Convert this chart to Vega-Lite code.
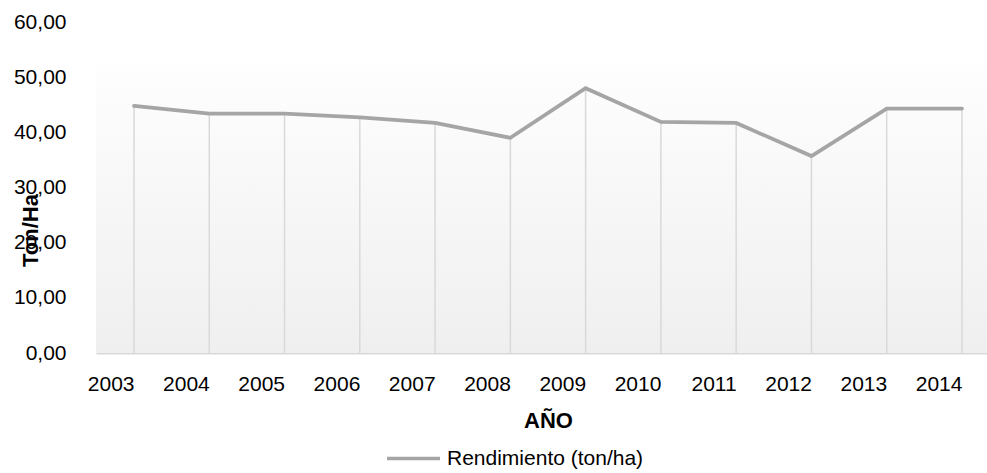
{
  "$schema": "https://vega.github.io/schema/vega-lite/v6.json",
  "width": 891,
  "height": 331,
  "autosize": {"type": "none"},
  "padding": {"left": 96, "top": 22, "right": 0, "bottom": 120},
  "background": "white",
  "config": {"view": {"stroke": null}, "font": "Liberation Sans"},
  "data": {
    "values": [
      {"year": "2003", "value": 44.8, "series": "Rendimiento (ton/ha)"},
      {"year": "2004", "value": 43.4, "series": "Rendimiento (ton/ha)"},
      {"year": "2005", "value": 43.4, "series": "Rendimiento (ton/ha)"},
      {"year": "2006", "value": 42.7, "series": "Rendimiento (ton/ha)"},
      {"year": "2007", "value": 41.7, "series": "Rendimiento (ton/ha)"},
      {"year": "2008", "value": 39.0, "series": "Rendimiento (ton/ha)"},
      {"year": "2009", "value": 48.0, "series": "Rendimiento (ton/ha)"},
      {"year": "2010", "value": 41.9, "series": "Rendimiento (ton/ha)"},
      {"year": "2011", "value": 41.7, "series": "Rendimiento (ton/ha)"},
      {"year": "2012", "value": 35.7, "series": "Rendimiento (ton/ha)"},
      {"year": "2013", "value": 44.3, "series": "Rendimiento (ton/ha)"},
      {"year": "2014", "value": 44.3, "series": "Rendimiento (ton/ha)"}
    ]
  },
  "layer": [
    {
      "data": {"values": [{"top": 52.6, "bottom": 0}]},
      "mark": {
        "type": "rect",
        "fill": {
          "gradient": "linear",
          "x1": 0, "y1": 0, "x2": 0, "y2": 1,
          "stops": [
            {"offset": 0, "color": "#fefefe"},
            {"offset": 1, "color": "#efefef"}
          ]
        }
      },
      "encoding": {
        "y": {"field": "top", "type": "quantitative"},
        "y2": {"field": "bottom"}
      }
    },
    {
      "mark": {"type": "rule", "color": "#d9d9d9", "strokeWidth": 1.5},
      "encoding": {
        "x": {"field": "year", "type": "ordinal"},
        "y": {"field": "value", "type": "quantitative"},
        "y2": {"datum": 0}
      }
    },
    {
      "mark": {"type": "line", "strokeWidth": 3.75, "strokeCap": "round", "strokeJoin": "miter"},
      "encoding": {
        "x": {
          "field": "year",
          "type": "ordinal",
          "scale": {"type": "point", "padding": 0.4186, "align": 0.603},
          "axis": {
            "title": "AÑO",
            "titleFont": "Liberation Sans",
            "titleFontSize": 22,
            "titleFontWeight": "bold",
            "titleColor": "black",
            "titleX": 452,
            "titleY": 67,
            "titleBaseline": "middle",
            "labelFont": "Liberation Sans",
            "labelFontSize": 21,
            "labelColor": "black",
            "labelAngle": 0,
            "labelPadding": 31,
            "ticks": false,
            "domainColor": "#d9d9d9",
            "domainWidth": 2,
            "grid": false
          }
        },
        "y": {
          "field": "value",
          "type": "quantitative",
          "scale": {"domain": [0, 60], "nice": false},
          "axis": {
            "title": "Ton/Ha",
            "titleFont": "Liberation Sans",
            "titleFontSize": 22,
            "titleFontWeight": "bold",
            "titleColor": "black",
            "titleAngle": -90,
            "titleAlign": "center",
            "titleBaseline": "middle",
            "titleX": -66,
            "titleY": 208,
            "values": [0, 10, 20, 30, 40, 50, 60],
            "labelExpr": "replace(format(datum.value, '.2f'), '.', ',')",
            "labelFont": "Liberation Sans",
            "labelFontSize": 21,
            "labelColor": "black",
            "labelPadding": 30,
            "ticks": false,
            "domain": false,
            "grid": false
          }
        },
        "color": {
          "field": "series",
          "type": "nominal",
          "scale": {"range": ["#a5a5a5"]},
          "legend": {
            "title": null,
            "orient": "none",
            "legendX": 289,
            "legendY": 408,
            "padding": 0,
            "symbolType": "stroke",
            "symbolSize": 2809,
            "symbolStrokeWidth": 3.5,
            "labelFont": "Liberation Sans",
            "labelFontSize": 21,
            "labelLimit": 500,
            "labelColor": "black",
            "labelOffset": 5
          }
        }
      }
    }
  ]
}
